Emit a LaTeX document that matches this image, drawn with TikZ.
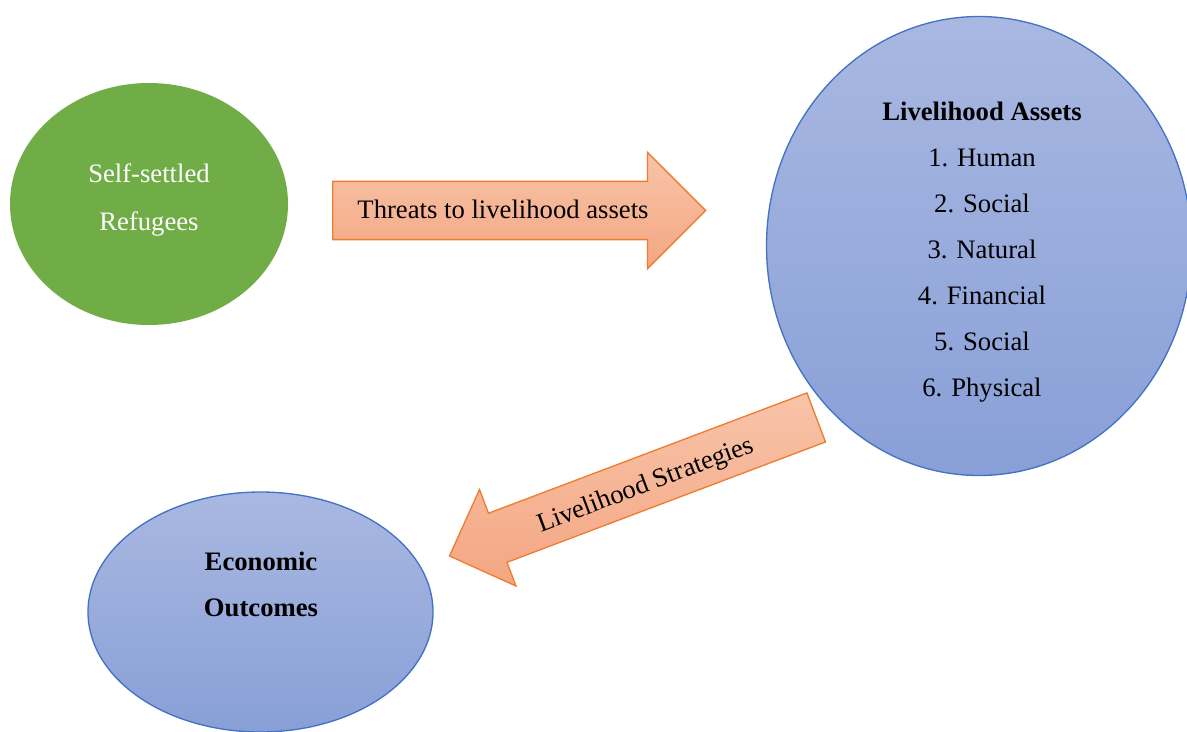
\documentclass[tikz,border=0pt]{standalone}
\usepackage{fontspec}
\setmainfont{Liberation Serif}
\usetikzlibrary{shapes.geometric,shapes.arrows}

\definecolor{leafgreen}{HTML}{70AD47}
\definecolor{assetedge}{HTML}{4472C4}
\definecolor{bluetop}{HTML}{A9B8E1}
\definecolor{bluebottom}{HTML}{889FD7}
\definecolor{arrowedge}{HTML}{ED7D31}
\definecolor{orangetop}{HTML}{F8C4A9}
\definecolor{orangebottom}{HTML}{F4A682}

\begin{document}
\begin{tikzpicture}[x=0.45pt,y=-0.45pt,
  blob/.style={ellipse,inner sep=0pt},
  assetblob/.style={blob,draw=assetedge,line width=0.6pt,
    top color=bluetop,bottom color=bluebottom},
  blockarrow/.style={single arrow,single arrow tip angle=90,
    draw=arrowedge,line width=0.6pt,inner xsep=0pt,
    top color=orangetop,bottom color=orangebottom},
  txt/.style={font=\fontsize{12}{20.7}\selectfont,align=center,inner sep=0pt}]
\useasboundingbox (0,0) rectangle (1187,731);
\node[blob,fill=leafgreen,minimum width=125.1pt,minimum height=108.9pt]
  (refugees) at (149,204) {};
\node[txt,text=white,font=\fontsize{12}{21.6}\selectfont] (refugees-txt) at (149,200)
  {Self-settled\\Refugees};
\node[assetblob,minimum width=191.25pt,minimum height=206.55pt]
  (assets) at (979,246) {};
\node[txt] (assets-txt) at (982,252)
  {\textbf{Livelihood Assets}\\1. Human\\2. Social\\3. Natural\\
   4. Financial\\5. Social\\6. Physical};
\node[assetblob,minimum width=155.25pt,minimum height=108pt]
  (outcomes) at (260.5,612) {};
\node[txt,font=\bfseries\fontsize{12}{20.7}\selectfont] (outcomes-txt) at (261,584)
  {Economic\\Outcomes};
\node[blockarrow,anchor=tail,minimum height=167.85pt,inner ysep=12.8pt,
  single arrow head extend=13.05pt] (threats) at (332,210.5) {};
\node[txt] (threats-txt) at (503,209) {Threats to livelihood assets};
\node[blockarrow,anchor=tail,rotate=200.7,
  minimum height=176.4pt,inner ysep=11.5pt,single arrow head extend=11.4pt]
  (strategies) at (816.8,417.2) {};
\node[txt,rotate=20.7] (strategies-txt) at (646,486) {Livelihood Strategies};
\end{tikzpicture}
\end{document}
